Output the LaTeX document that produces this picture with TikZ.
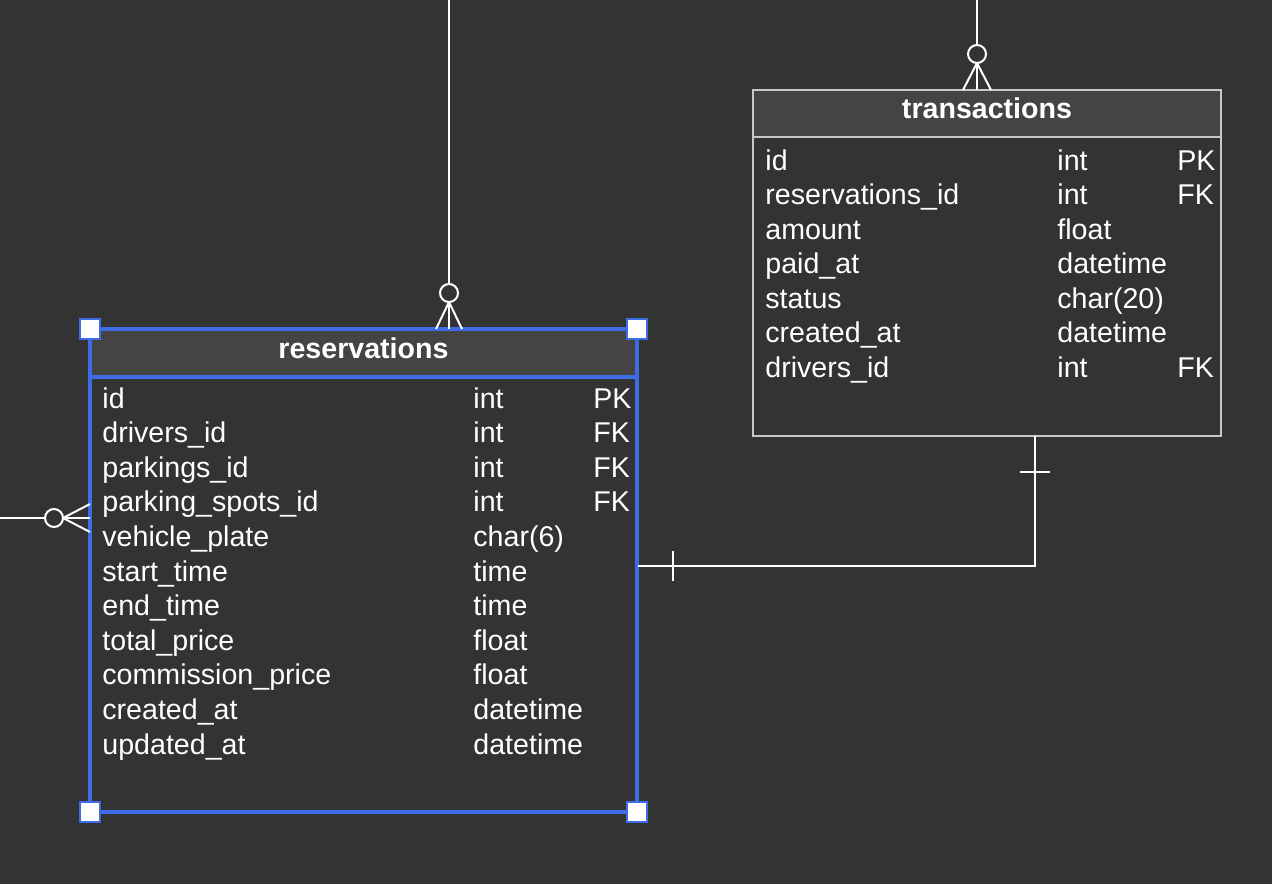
\documentclass[tikz,border=0pt]{standalone}
\usepackage{fontspec}
\setmainfont{Liberation Sans}
\usepackage{xcolor}
\usepackage{tikz}
\usetikzlibrary{arrows}

\definecolor{bg}{HTML}{333333}
\definecolor{headgray}{HTML}{444444}
\definecolor{selblue}{HTML}{3E6BE6}
\definecolor{boxgray}{HTML}{C8C8C8}

\begin{document}
\begin{tikzpicture}[x=0.5pt,y=-0.5pt,font=\fontsize{14.3}{16}\selectfont,
    cell/.style={anchor=base west,text=white,inner sep=0pt},
    title/.style={anchor=base,text=white,inner sep=0pt,font=\fontsize{14.3}{16}\selectfont\bfseries},
    tablebox/.style={rectangle,inner sep=0pt,outer sep=0pt},
    handle/.style={rectangle,draw=selblue,fill=white,line width=1pt,minimum size=10pt,inner sep=0pt},
    manycirc/.style={circle,draw=white,fill=bg,line width=1pt,minimum size=9pt,inner sep=0pt,outer sep=0pt},
    link/.style={white,line width=1pt}]

    \fill[bg] (0,0) rectangle (1272,884);
    \useasboundingbox (0,0) rectangle (1272,884);

\begin{scope}

    % transactions
    \fill[headgray] (753,90) rectangle (1221,137);
    \draw[boxgray,line width=1pt] (753,137) -- (1221,137);
    \node[tablebox,draw=boxgray,line width=1pt,minimum width=234pt,minimum height=173pt] (transactions) at (987,263) {};
    \node[title] (ttitle) at (987,118.5) {transactions};

    \node[cell] (t1n) at (765,170) {id};
    \node[cell] (t1t) at (1057,170) {int};
    \node[cell] (t1k) at (1177,170) {PK};
    \node[cell] (t2n) at (765,204.5) {reservations\_id};
    \node[cell] (t2t) at (1057,204.5) {int};
    \node[cell] (t2k) at (1177,204.5) {FK};
    \node[cell] (t3n) at (765,239) {amount};
    \node[cell] (t3t) at (1057,239) {float};
    \node[cell] (t4n) at (765,273.5) {paid\_at};
    \node[cell] (t4t) at (1057,273.5) {datetime};
    \node[cell] (t5n) at (765,308) {status};
    \node[cell] (t5t) at (1057,308) {char(20)};
    \node[cell] (t6n) at (765,342.5) {created\_at};
    \node[cell] (t6t) at (1057,342.5) {datetime};
    \node[cell] (t7n) at (765,377) {drivers\_id};
    \node[cell] (t7t) at (1057,377) {int};
    \node[cell] (t7k) at (1177,377) {FK};

    % reservations
    \fill[headgray] (90,329) rectangle (637,377);
    \draw[selblue,line width=1.6pt] (90,377) -- (637,377);
    \node[tablebox,draw=selblue,line width=1.6pt,minimum width=273.5pt,minimum height=241.5pt] (reservations) at (363.5,570.5) {};
    \node[title] (rtitle) at (363.5,358.5) {reservations};

    \node[cell] (r1n) at (102,408) {id};
    \node[cell] (r1t) at (473,408) {int};
    \node[cell] (r1k) at (593,408) {PK};
    \node[cell] (r2n) at (102,442.6) {drivers\_id};
    \node[cell] (r2t) at (473,442.6) {int};
    \node[cell] (r2k) at (593,442.6) {FK};
    \node[cell] (r3n) at (102,477.2) {parkings\_id};
    \node[cell] (r3t) at (473,477.2) {int};
    \node[cell] (r3k) at (593,477.2) {FK};
    \node[cell] (r4n) at (102,511.8) {parking\_spots\_id};
    \node[cell] (r4t) at (473,511.8) {int};
    \node[cell] (r4k) at (593,511.8) {FK};
    \node[cell] (r5n) at (102,546.4) {vehicle\_plate};
    \node[cell] (r5t) at (473,546.4) {char(6)};
    \node[cell] (r6n) at (102,581) {start\_time};
    \node[cell] (r6t) at (473,581) {time};
    \node[cell] (r7n) at (102,615.6) {end\_time};
    \node[cell] (r7t) at (473,615.6) {time};
    \node[cell] (r8n) at (102,650.2) {total\_price};
    \node[cell] (r8t) at (473,650.2) {float};
    \node[cell] (r9n) at (102,684.8) {commission\_price};
    \node[cell] (r9t) at (473,684.8) {float};
    \node[cell] (r10n) at (102,719.4) {created\_at};
    \node[cell] (r10t) at (473,719.4) {datetime};
    \node[cell] (r11n) at (102,754) {updated\_at};
    \node[cell] (r11t) at (473,754) {datetime};

    \node[handle] (h1) at (90,329) {};
    \node[handle] (h2) at (637,329) {};
    \node[handle] (h3) at (90,812) {};
    \node[handle] (h4) at (637,812) {};

    % zero or many, top of reservations
    \coordinate (up1) at (449,0);
    \node[manycirc] (c1) at (449,293) {};
    \draw[link] (up1) -- (c1);
    \draw[link] (c1.south) -- ([xshift=-6.5pt]c1 |- reservations.north);
    \draw[link] (c1.south) -- (c1 |- reservations.north);
    \draw[link] (c1.south) -- ([xshift=6.5pt]c1 |- reservations.north);

    % zero or many, top of transactions
    \coordinate (up2) at (977,0);
    \node[manycirc] (c2) at (977,54) {};
    \draw[link] (up2) -- (c2);
    \draw[link] (c2.south) -- ([xshift=-7pt]c2 |- transactions.north);
    \draw[link] (c2.south) -- (c2 |- transactions.north);
    \draw[link] (c2.south) -- ([xshift=7pt]c2 |- transactions.north);

    % zero or many, left of reservations
    \coordinate (left1) at (0,518);
    \node[manycirc] (c3) at (54,518) {};
    \draw[link] (left1) -- (c3);
    \draw[link] (c3.east) -- ([yshift=7pt]c3 -| reservations.west);
    \draw[link] (c3.east) -- (c3 -| reservations.west);
    \draw[link] (c3.east) -- ([yshift=-7pt]c3 -| reservations.west);

    % one and only one
    \coordinate (rel1) at (638,566);
    \coordinate (rel2) at (1035,436);
    \draw[link] (rel1) -| (rel2);
    \draw[link] (673,551) -- (673,581);
    \draw[link] (1020,472) -- (1050,472);

\end{scope}
\end{tikzpicture}
\end{document}
